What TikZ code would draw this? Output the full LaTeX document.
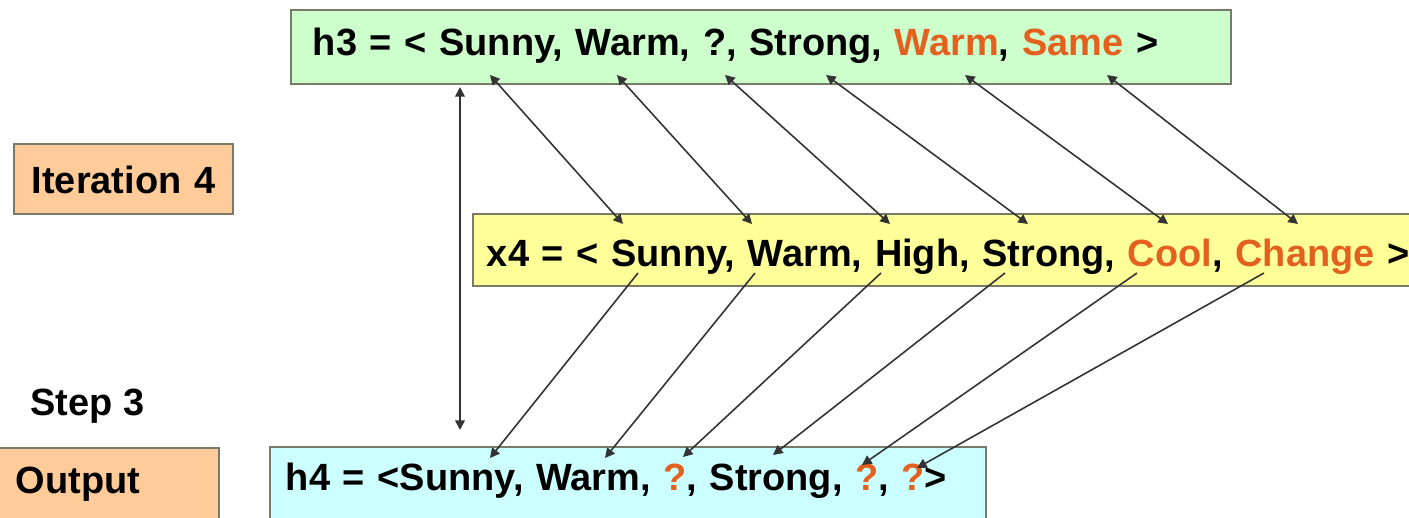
\documentclass[tikz,border=0pt]{standalone}
\usepackage{fontspec}
\setmainfont{Liberation Sans}
\usetikzlibrary{arrows.meta}
\definecolor{hypgreen}{HTML}{CCFFCC}
\definecolor{exyellow}{HTML}{FFFF99}
\definecolor{outcyan}{HTML}{CCFFFF}
\definecolor{tagorange}{HTML}{FFCC99}
\definecolor{boxgray}{HTML}{7A7A68}
\definecolor{linkgray}{HTML}{333333}
\definecolor{chgorange}{HTML}{E3601E}
\newcommand{\chg}[1]{\textcolor{chgorange}{#1}}

\begin{document}
\begin{tikzpicture}[x=0.02cm, y=-0.02cm,
          hyp/.style={draw=boxgray, line width=1.1pt, anchor=north west, inner ysep=0pt, align=left, font=\fontsize{21.6}{26}\selectfont\bfseries},
          tag/.style={hyp, fill=tagorange},
          arr/.style={-{Triangle[length=5.5pt, width=5.5pt]}, line width=0.9pt, draw=linkgray},
          both/.style={arr, {Triangle[length=5.5pt, width=5.5pt]}-{Triangle[length=5.5pt, width=5.5pt]}}]
        \useasboundingbox (0,0) rectangle (1409,517);
        \clip (0,0) rectangle (1409,517);
        \node[hyp, fill=hypgreen, inner xsep=0.44cm, text width=17.92cm, text height=0.92cm, text depth=0.56cm] (h3) at (290,9) {h3 = < Sunny, Warm, ?, Strong, \chg{Warm}, \chg{Same} >};
        \node[hyp, fill=exyellow, inner xsep=0.28cm, text width=18.8cm, text height=1.06cm, text depth=0.38cm] (x4) at (472,213) {x4 = < Sunny, Warm, High, Strong, \chg{Cool}, \chg{Change} >};
        \node[hyp, fill=outcyan, inner xsep=0.32cm, text width=13.68cm, text height=0.88cm, text depth=0.8cm] (h4) at (269,446) {h4 = <Sunny, Warm, \chg{?}, Strong, \chg{?}, \chg{?}>};
        \node[tag, inner xsep=0.1cm, text width=4.18cm, align=center, text height=1.0cm, text depth=0.4cm] (iter) at (13,143) {Iteration 4};
        \node[tag, inner xsep=0.4cm, text width=3.66cm, text height=0.92cm, text depth=0.8cm] (out) at (-5,447) {Output};
        \node[anchor=base west, inner sep=0pt, font=\fontsize{21.6}{26}\selectfont\bfseries] (step) at (30,415) {Step 3};
        % h3 <-> x4, attribute by attribute
        \foreach \i/\a/\b in {1/490/623, 2/617/752, 3/725/890, 4/826/1028, 5/965/1168, 6/1107/1298} {
          \coordinate (up\i) at (\a,75);
          \coordinate (dn\i) at (\b,224);
          \draw[both] (up\i) -- (dn\i);
        }
        % x4 -> h4
        \foreach \i/\a/\b/\y in {1/638/490/458, 2/755/605/458, 3/881/683/457, 4/1005/773/455, 5/1137/862/465, 6/1264/917/468} {
          \coordinate (fr\i) at (\a,273);
          \coordinate (to\i) at (\b,\y);
          \draw[arr] (fr\i) -- (to\i);
        }
        \coordinate (vt) at (460,87);
        \coordinate (vb) at (460,430);
        \draw[both] (vt) -- (vb);
      \end{tikzpicture}
\end{document}
